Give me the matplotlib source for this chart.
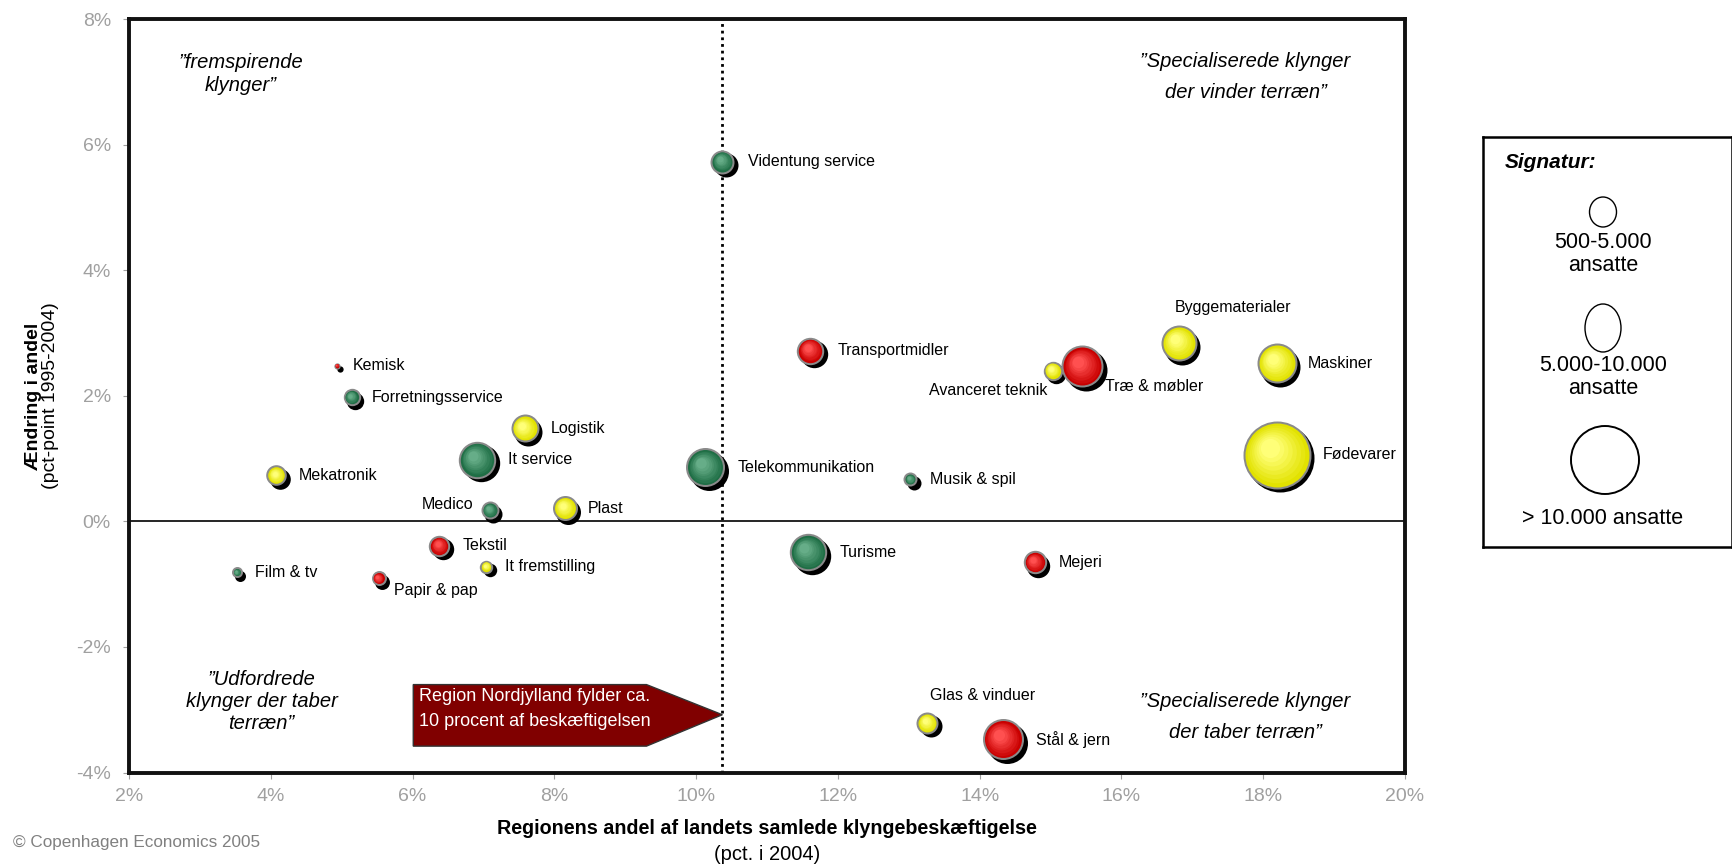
import matplotlib
matplotlib.use("Agg")
import matplotlib.pyplot as plt
from matplotlib.patches import Polygon, Ellipse
from matplotlib.transforms import offset_copy
from matplotlib.ticker import FuncFormatter

plt.rcParams['font.family'] = ['Liberation Sans', 'DejaVu Sans']
NARROW = ['Liberation Sans Narrow', 'Liberation Sans', 'DejaVu Sans']

# klynger: navn, andel 2004 (%), ændring i andel (pct-point), ansatte (ca.), type
names = ['Kemisk', 'Forretningsservice', 'Logistik', 'It service', 'Mekatronik',
         'Medico', 'Plast', 'Tekstil', 'Film & tv', 'Papir & pap', 'It fremstilling',
         'Videntung service', 'Telekommunikation', 'Transportmidler', 'Turisme',
         'Musik & spil', 'Mejeri', 'Avanceret teknik', 'Træ & møbler',
         'Byggematerialer', 'Maskiner', 'Fødevarer', 'Glas & vinduer', 'Stål & jern']
share = [4.93, 5.14, 7.58, 6.91, 4.08, 7.09, 8.15, 6.38, 3.52, 5.52, 7.04,
         10.37, 10.13, 11.61, 11.58, 13.02, 14.78, 15.03, 15.45,
         16.81, 18.19, 18.19, 13.26, 14.33]
change = [2.48, 1.98, 1.48, 0.98, 0.73, 0.18, 0.21, -0.39, -0.81, -0.91, -0.72,
          5.73, 0.86, 2.72, -0.49, 0.67, -0.65, 2.40, 2.47,
          2.84, 2.52, 1.06, -3.21, -3.47]
employees = [300, 2300, 5970, 10650, 3230, 2470, 4760, 3490, 920, 1700, 1370,
             4390, 11590, 5720, 10650, 1490, 4170, 2870, 13440,
             9870, 12190, 35220, 3690, 12800]
kind = ['r', 'g', 'y', 'g', 'y', 'g', 'y', 'r', 'g', 'r', 'y',
        'g', 'g', 'r', 'g', 'g', 'r', 'y', 'r',
        'y', 'y', 'y', 'y', 'r']

# label placement (pixels from bubble centre)
label_dx = [16, 20, 26, 31, 22, -16, 23, 23, 18, 15, 19,
            26, 32, 27, 32, 20, 24, -5, 23, -4, 31, 46, 3, 33]
label_dy = [0, 0, 0, 0, 0, 6, 0, 0, 0, -12, 0,
            0, 0, 0, 0, 0, 0, -20, -20, 36, 0, 0, 27, 0]

region_share = 10.37
x_ticks = [2, 4, 6, 8, 10, 12, 14, 16, 18, 20]
y_ticks = [-4, -2, 0, 2, 4, 6, 8]

colors = {'y': ('#e2e200', '#ffff78'),
          'g': ('#1f6e45', '#66ad88'),
          'r': ('#c80000', '#ff5050')}

W, H = 1733, 867
fig = plt.figure(figsize=(W / 100, H / 100), dpi=100)
ax = fig.add_axes([129 / W, 1 - 772.5 / H, (1405 - 129) / W, (772.5 - 19) / H])
ax.set_xlim(2, 20)
ax.set_ylim(-4, 8)
ax.set_xticks(x_ticks)
ax.set_yticks(y_ticks)
ax.xaxis.set_major_formatter(FuncFormatter(lambda v, p: f'{v:.0f}%'))
ax.yaxis.set_major_formatter(FuncFormatter(lambda v, p: f'{v:.0f}%'))
ax.tick_params(colors='#a0a0a0', labelsize=14, length=4, direction='out')
ax.tick_params(axis='y', pad=9)
ax.tick_params(axis='x', pad=7)
for sp in ax.spines.values():
    sp.set_linewidth(2.8)
    sp.set_color('#111111')

ax.axhline(0, color='black', lw=1.2, zorder=1)
ax.axvline(region_share, color='black', lw=2, linestyle=(0, (1, 1.4)), zorder=1)


def bubble(x, y, r, base, light):
    s = lambda rad: (2 * rad * 0.72) ** 2
    shadow = offset_copy(ax.transData, fig=fig, x=3.5, y=-3.5, units='dots')
    ax.scatter([x], [y], s=s(r), color='black', transform=shadow, linewidths=0, zorder=3)
    ax.scatter([x], [y], s=s(r), color='#8a8a8a', linewidths=0, zorder=3)
    n = 8
    inner = max(r - 2, r * 0.6)
    b = matplotlib.colors.to_rgb(base)
    l = matplotlib.colors.to_rgb(light)
    for i in range(n):
        f = i / (n - 1)
        rad = inner * (1 - 0.7 * f)
        off = inner * 0.22 * f
        c = tuple(b[k] + (l[k] - b[k]) * f for k in range(3))
        tr = offset_copy(ax.transData, fig=fig, x=-off, y=off, units='dots')
        ax.scatter([x], [y], s=s(rad), color=c, transform=tr, linewidths=0, zorder=3)


for i in range(len(names)):
    r = 19 * (employees[i] / 11000) ** 0.5
    base, light = colors[kind[i]]
    bubble(share[i], change[i], r, base, light)
    ha = 'right' if label_dx[i] < 0 and names[i] != 'Byggematerialer' else 'left'
    ax.annotate(names[i], (share[i], change[i]), xytext=(label_dx[i], label_dy[i]),
                textcoords='offset pixels', ha=ha, va='center', fontsize=11.5, zorder=5)

# quadrant texts
qkw = dict(ha='center', va='center', fontsize=14.5, style='italic')
ax.text(3.58, 7.13, '”fremspirende\nklynger”', linespacing=1.25, **qkw)
ax.text(17.75, 7.07, '”Specialiserede klynger\nder vinder terræn”', linespacing=1.8, **qkw)
ax.text(3.87, -2.87, '”Udfordrede\nklynger der taber\nterræn”', linespacing=1.17, **qkw)
ax.text(17.75, -3.12, '”Specialiserede klynger\nder taber terræn”', linespacing=1.8, **qkw)

# arrow box
arrow = Polygon([(6.01, -2.60), (9.30, -2.60), (region_share, -3.08),
                 (9.30, -3.58), (6.01, -3.58)], closed=True,
                facecolor='#800000', edgecolor='#333333', lw=1, zorder=4)
ax.add_patch(arrow)
ax.text(6.09, -2.79, 'Region Nordjylland fylder ca.', color='white', fontsize=13,
        va='center', ha='left', zorder=5)
ax.text(6.09, -3.19, '10 procent af beskæftigelsen', color='white', fontsize=13,
        va='center', ha='left', zorder=5)

# axis titles
fig.text(34 / W, 1 - 396 / H, 'Ændring i andel', rotation=90, ha='center', va='center',
         fontsize=14, fontweight='bold', family=NARROW)
fig.text(51 / W, 1 - 396 / H, '(pct-point 1995-2004)', rotation=90, ha='center',
         va='center', fontsize=14, family=NARROW)
fig.text(767 / W, 1 - 829 / H, 'Regionens andel af landets samlede klyngebeskæftigelse',
         ha='center', va='center', fontsize=14.2, fontweight='bold', family=NARROW)
fig.text(767 / W, 1 - 855 / H, '(pct. i 2004)', ha='center', va='center',
         fontsize=14.5, family=NARROW)
fig.text(13 / W, 1 - 842 / H, '© Copenhagen Economics 2005', ha='left', va='center',
         fontsize=12.3, color='#808080', family=NARROW)

# legend box
lg = fig.add_axes([1483 / W, 1 - 547 / H, 249 / W, 410 / H])
lg.set_xlim(0, 249)
lg.set_ylim(410, 0)
lg.set_xticks([])
lg.set_yticks([])
for sp in lg.spines.values():
    sp.set_linewidth(1.8)
    sp.set_color('black')
lg.text(22, 25, 'Signatur:', fontsize=15, fontweight='bold', style='italic',
        ha='left', va='center')
lg.add_patch(Ellipse((120, 75), 27, 30, facecolor='white', edgecolor='black', lw=1))
lg.text(120, 117, '500-5.000\nansatte', fontsize=15.5, ha='center', va='center',
        linespacing=1.1)
lg.add_patch(Ellipse((120, 191), 36, 48, facecolor='white', edgecolor='black', lw=1))
lg.text(120, 240, '5.000-10.000\nansatte', fontsize=15.5, ha='center', va='center',
        linespacing=1.1)
lg.add_patch(Ellipse((122, 323), 68, 68, facecolor='white', edgecolor='black', lw=1.4))
lg.text(120, 382, '> 10.000 ansatte', fontsize=15.5, ha='center', va='center')

fig.savefig('out.png', dpi=100)
